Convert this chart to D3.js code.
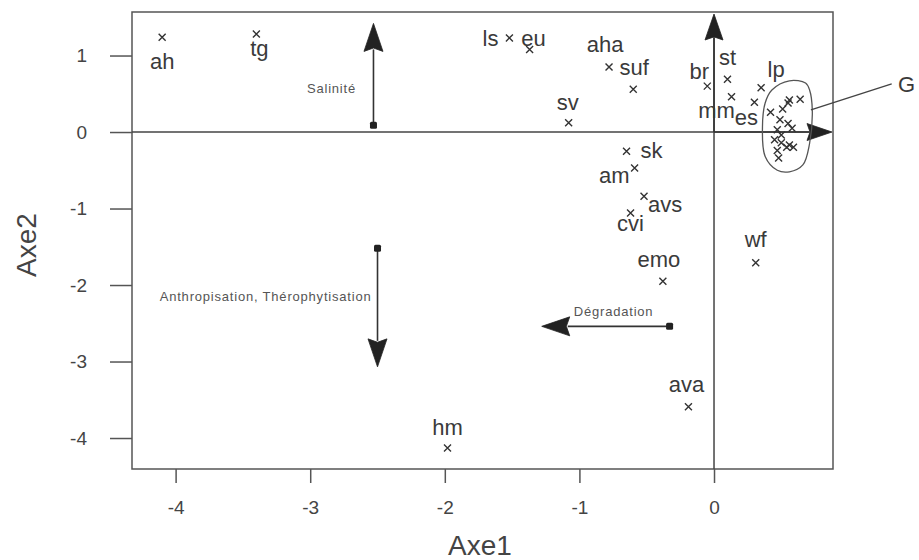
<!DOCTYPE html>
<html><head><meta charset="utf-8">
<script src="https://cdn.jsdelivr.net/npm/d3@7"></script>
<style>
html,body{margin:0;padding:0;background:#fff;}
svg{display:block;font-family:"Liberation Sans",Arial,sans-serif;}
</style></head>
<body>
<svg id="chart" width="919" height="560"></svg>
<script>
// ---- data ----
const pointNames = ["ah","tg","ls","eu","aha","suf","sv","br","st","mm","es","lp","sk","am","avs","cvi","emo","wf","ava","hm",""];
const pointX = [-4.10,-3.40,-1.52,-1.37,-0.78,-0.60,-1.08,-0.05,0.10,0.13,0.30,0.35,-0.65,-0.59,-0.52,-0.62,-0.38,0.31,-0.19,-1.98,0.42];
const pointY = [1.24,1.28,1.23,1.08,0.85,0.56,0.12,0.60,0.69,0.46,0.39,0.58,-0.25,-0.47,-0.84,-1.06,-1.95,-1.71,-3.59,-4.13,0.26];
// group G points
const groupX = [0.64,0.56,0.55,0.51,0.49,0.55,0.58,0.47,0.50,0.45,0.50,0.56,0.59,0.47,0.54,0.48];
const groupY = [0.43,0.42,0.38,0.30,0.16,0.11,0.05,0.03,-0.04,-0.10,-0.14,-0.17,-0.20,-0.24,-0.20,-0.34];
// outline of group G
const hullX = [0.43,0.56,0.68,0.71,0.73,0.71,0.66,0.56,0.47,0.38,0.36,0.38];
const hullY = [0.55,0.67,0.64,0.55,0.29,-0.15,-0.43,-0.52,-0.50,-0.32,0.07,0.38];
const groupLabel = "G";
const groupPointer = [[0.72,0.29],[1.32,0.63]];
const groupLabelPos = [1.43,0.61];
// gradient arrows
const arrowNames = ["Salinité","Anthropisation, Thérophytisation","Dégradation"];
const arrowFromX = [-2.53,-2.50,-0.33];
const arrowFromY = [0.09,-1.52,-2.54];
const arrowToX = [-2.53,-2.50,-1.28];
const arrowToY = [1.42,-3.07,-2.54];
// ticks
const xTicks = [-4,-3,-2,-1,0];
const yTicks = [1,0,-1,-2,-3,-4];
const xTitle = "Axe1", yTitle = "Axe2";

// ---- layout ----
const labelPlace = {
  ah:[0,32,"middle"], tg:[3,22,"middle"], ls:[-11,8,"end"], eu:[4,-3,"middle"],
  aha:[-4,-15,"middle"], suf:[1,-14,"middle"], sv:[-1,-13,"middle"], br:[-8,-7,"middle"],
  st:[0,-14,"middle"], mm:[-15,21,"middle"], es:[-8,23,"middle"], lp:[15,-11,"middle"],
  sk:[14,7,"start"], am:[-5,15,"end"], avs:[4,16,"start"], cvi:[0,18,"middle"],
  emo:[-4,-14,"middle"], wf:[0,-16,"middle"], ava:[-2,-15,"middle"], hm:[0,-13,"middle"]
};
const arrowLabelPlace = [[-42,-32,"middle"],[-6,53,"end"],[-56,-10,"middle"]]; // offsets relative to arrow start
const L = 132, R = 833, T = 12, B = 469;
const ink = "#3a3a3a";

const svg = d3.select("#chart");
const x = d3.scaleLinear().domain([-4.324,0.884]).range([L,R]);
const y = d3.scaleLinear().domain([-4.405,1.569]).range([B,T]);

// frame
svg.append("rect").attr("x",L).attr("y",T).attr("width",R-L).attr("height",B-T)
  .attr("fill","none").attr("stroke","#555").attr("stroke-width",1.5);

// axes
const gx = svg.append("g").attr("transform",`translate(0,${B})`)
  .call(d3.axisBottom(x).tickValues(xTicks).tickSize(14).tickPadding(18).tickFormat(d3.format("d")));
const gy = svg.append("g").attr("transform",`translate(${L},0)`)
  .call(d3.axisLeft(y).tickValues(yTicks).tickSize(22).tickPadding(23).tickFormat(d3.format("d")));
[gx,gy].forEach(g=>{
  g.select(".domain").remove();
  g.selectAll("line").attr("stroke","#555").attr("stroke-width",1.5);
  g.selectAll("text").attr("fill","#444").style("font-size","19px").style("font-family","'Liberation Sans',Arial,sans-serif");
});
gx.selectAll("text").text(d=>d<0?"-"+Math.abs(d):d);
gy.selectAll("text").text(d=>d<0?"-"+Math.abs(d):d);

svg.append("text").attr("x",480).attr("y",555).attr("text-anchor","middle")
  .attr("fill","#444").style("font-size","28px").text(xTitle);
svg.append("text").attr("transform","translate(36,245) rotate(-90)").attr("text-anchor","middle")
  .attr("fill","#444").style("font-size","28px").text(yTitle);

// arrow helper
function arrow(x1,y1,x2,y2,len,wid,withSquare){
  const g = svg.append("g");
  const dx = x2-x1, dy = y2-y1, d = Math.hypot(dx,dy), ux = dx/d, uy = dy/d;
  const bx = x2-ux*len, by = y2-uy*len;
  g.append("line").attr("x1",x1).attr("y1",y1).attr("x2",bx+ux*2).attr("y2",by+uy*2)
    .attr("stroke","#333").attr("stroke-width",1.6);
  g.append("path").attr("d",`M${x2},${y2}L${bx-uy*wid/2},${by+ux*wid/2}L${bx+ux*len*0.12},${by+uy*len*0.12}L${bx+uy*wid/2},${by-ux*wid/2}Z`)
    .attr("fill","#222").attr("stroke","#222").attr("stroke-width",0.8);
  if(withSquare) g.append("rect").attr("x",x1-3.5).attr("y",y1-3.5).attr("width",7).attr("height",7)
    .attr("rx",1.5).attr("fill","#222");
}
// principal axes through origin
svg.append("line").attr("x1",x(0)).attr("x2",x(0)).attr("y1",B).attr("y2",T+20).attr("stroke","#444").attr("stroke-width",1.5);
svg.append("line").attr("x1",L).attr("x2",R-20).attr("y1",y(0)).attr("y2",y(0)).attr("stroke","#444").attr("stroke-width",1.5);
arrow(x(0),y(0),x(0),T+2,26,18,false);
arrow(x(0),y(0),R-1,y(0),25,17,false);

// gradient arrows
arrowNames.forEach((name,i)=>{
  const x1 = x(arrowFromX[i]), y1 = y(arrowFromY[i]), x2 = x(arrowToX[i]), y2 = y(arrowToY[i]);
  arrow(x1,y1,x2,y2,28,19,true);
  const p = arrowLabelPlace[i];
  svg.append("text").attr("x",x1+p[0]).attr("y",y1+p[1]).attr("text-anchor",p[2])
    .attr("fill","#555").style("font-size","13px").style("letter-spacing","0.8px").text(name);
});

// group hull
const hull = hullX.map((v,i)=>[x(v),y(hullY[i])]);
svg.append("path").attr("d",d3.line().curve(d3.curveCatmullRomClosed.alpha(0.5))(hull))
  .attr("fill","none").attr("stroke","#555").attr("stroke-width",1.3);
svg.append("line").attr("x1",x(groupPointer[0][0])).attr("y1",y(groupPointer[0][1]))
  .attr("x2",x(groupPointer[1][0])).attr("y2",y(groupPointer[1][1]))
  .attr("stroke","#444").attr("stroke-width",1.4);
svg.append("text").attr("x",x(groupLabelPos[0])).attr("y",y(groupLabelPos[1])+7)
  .attr("text-anchor","middle").attr("fill",ink).style("font-size","22px").text(groupLabel);

// crosses
const cross = "M-3.5,-3.5L3.5,3.5M-3.5,3.5L3.5,-3.5";
const allPts = pointX.map((v,i)=>({x:v,y:pointY[i],name:pointNames[i]}))
  .concat(groupX.map((v,i)=>({x:v,y:groupY[i],name:""})));
svg.append("g").selectAll("path").data(allPts).join("path")
  .attr("transform",d=>`translate(${x(d.x)},${y(d.y)})`).attr("d",cross)
  .attr("stroke","#333").attr("stroke-width",1.4).attr("fill","none");

// labels
svg.append("g").selectAll("text").data(allPts.filter(d=>d.name)).join("text")
  .attr("x",d=>x(d.x)+labelPlace[d.name][0]).attr("y",d=>y(d.y)+labelPlace[d.name][1])
  .attr("text-anchor",d=>labelPlace[d.name][2])
  .attr("fill",ink).style("font-size","22px").text(d=>d.name);
</script>
</body></html>
